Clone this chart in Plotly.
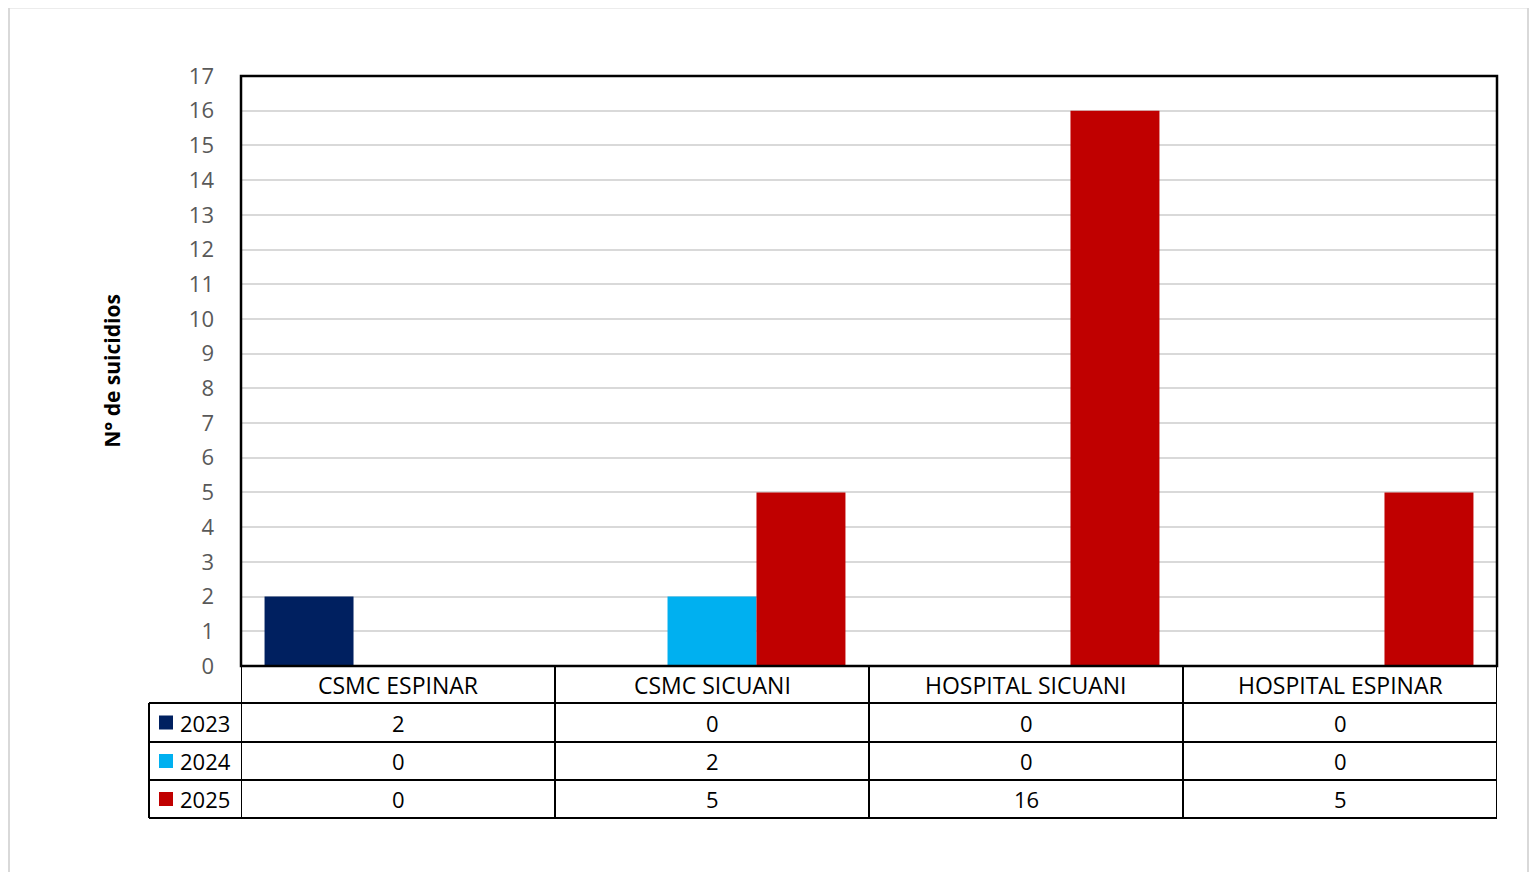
import plotly.graph_objects as go

categories = ["CSMC ESPINAR", "CSMC SICUANI", "HOSPITAL SICUANI", "HOSPITAL ESPINAR"]
years = ["2023", "2024", "2025"]
values_2023 = [2, 0, 0, 0]
values_2024 = [0, 2, 0, 0]
values_2025 = [0, 5, 16, 5]
series_colors = ["#002060", "#00B0F0", "#C00000"]
y_axis_title = "N° de suicidios"
y_max = 17

series = [values_2023, values_2024, values_2025]

# page has an 8px body margin; figure autosizes to 1521x864
OFF = 8
W, H = 1537 - 2 * OFF, 880 - 2 * OFF
plot_left, plot_right, plot_top, plot_bottom = 241, 1497, 76, 666  # page pixels
L = plot_left - OFF
T = plot_top - OFF
R = W - (plot_right - OFF)
B = H - (plot_bottom - OFF)
pw = W - L - R
ph = H - T - B


def px_x(X):
    """page pixel x -> paper coordinate"""
    return (X - plot_left) / pw


def px_y(Y):
    """page pixel y -> paper coordinate"""
    return (plot_bottom - Y) / ph


FONT = "Open Sans"

fig = go.Figure()
for name, vals, col in zip(years, series, series_colors):
    fig.add_trace(go.Bar(x=categories, y=vals, name=name, marker_color=col,
                         marker_line_width=0, showlegend=False))

# table geometry (page pixels)
header_bottom = 703
row_edges = [703, 742, 780, 818]
legend_left = 149
line_col = "#000000"

shapes = []
# outer light frame
shapes.append(dict(type="rect", xref="paper", yref="paper", x0=px_x(OFF + 1), x1=px_x(OFF + W - 1),
                   y0=px_y(900), y1=px_y(OFF - 0.5), line=dict(color="#d9d9d9", width=2), layer="below"))
# horizontal table lines
for Y in row_edges:
    shapes.append(dict(type="line", xref="paper", yref="paper", x0=px_x(legend_left), x1=1,
                       y0=px_y(Y), y1=px_y(Y), line=dict(color=line_col, width=2)))
# vertical table lines at category edges
for i in range(len(categories) + 1):
    shapes.append(dict(type="line", xref="x", yref="paper", x0=i - 0.5, x1=i - 0.5,
                       y0=0, y1=px_y(row_edges[-1]), line=dict(color=line_col, width=2)))
# legend column left border
shapes.append(dict(type="line", xref="paper", yref="paper", x0=px_x(legend_left), x1=px_x(legend_left),
                   y0=px_y(row_edges[0]), y1=px_y(row_edges[-1]), line=dict(color=line_col, width=2)))
# plot frame
shapes.append(dict(type="rect", xref="paper", yref="paper", x0=0, x1=1, y0=0, y1=1,
                   line=dict(color="#000000", width=2.5), layer="above"))

annotations = []
# header: category names
for c in categories:
    annotations.append(dict(x=c, xref="x", y=px_y((plot_bottom + header_bottom) / 2), yref="paper",
                            text=c, showarrow=False, font=dict(family=FONT, size=23, color="#000000"),
                            xanchor="center", yanchor="middle"))
for r, (name, vals, col) in enumerate(zip(years, series, series_colors)):
    yc = (row_edges[r] + row_edges[r + 1]) / 2
    # legend key square
    shapes.append(dict(type="rect", xref="paper", yref="paper", x0=px_x(159), x1=px_x(173),
                       y0=px_y(yc + 7), y1=px_y(yc - 7), fillcolor=col, line=dict(width=0)))
    annotations.append(dict(x=px_x(178), xref="paper", y=px_y(yc), yref="paper", text=name,
                            showarrow=False, font=dict(family=FONT, size=22, color="#000000"),
                            xanchor="left", yanchor="middle"))
    for c, v in zip(categories, vals):
        annotations.append(dict(x=c, xref="x", y=px_y(yc), yref="paper", text=str(v),
                                showarrow=False, font=dict(family=FONT, size=22, color="#000000"),
                                xanchor="center", yanchor="middle"))

fig.update_layout(
    barmode="group", bargap=0.15, bargroupgap=0,
    margin=dict(l=L, r=R, t=T, b=B, autoexpand=False),
    paper_bgcolor="white", plot_bgcolor="white",
    shapes=shapes, annotations=annotations,
    font=dict(family=FONT),
)
fig.update_xaxes(showticklabels=False, showgrid=False, zeroline=False, showline=False,
                 range=[-0.5, len(categories) - 0.5])
fig.update_yaxes(range=[0, y_max], dtick=1, tick0=0, showgrid=True, gridcolor="#d9d9d9", gridwidth=1.5,
                 zeroline=False, showline=False, ticks="", ticklabelstandoff=26,
                 tickfont=dict(family=FONT, size=22, color="#595959"),
                 title=dict(text="<b>" + y_axis_title + "</b>", standoff=62,
                            font=dict(family=FONT, size=21, color="#000000")))

fig.write_html("out.html")
